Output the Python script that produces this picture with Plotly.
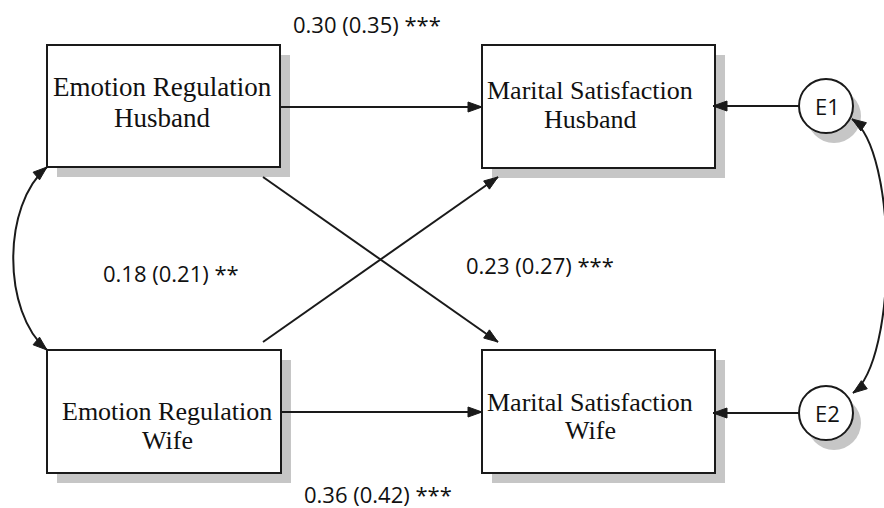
import math
import plotly.graph_objects as go

# ---------------- data ----------------
node_keys = ["ERH", "MSH", "ERW", "MSW"]
node_line1 = ["Emotion Regulation", "Marital Satisfaction", "Emotion Regulation", "Marital Satisfaction"]
node_line2 = ["Husband", "Husband", "Wife", "Wife"]
error_keys = ["E1", "E2"]
error_labels = ["E1", "E2"]
coef_labels = ["0.30 (0.35) ***", "0.23 (0.27) ***", "0.18 (0.21) **", "0.36 (0.42) ***"]
# directed paths (from, to)
paths_from = ["ERH", "ERW", "ERH", "ERW", "E1", "E2"]
paths_to = ["MSH", "MSW", "MSW", "MSH", "MSH", "MSW"]

# ---------------- layout geometry (pixels) ----------------
W, H = 884, 508
box_geom = {
    "ERH": dict(x0=47, y0=45, x1=280, y1=167, tx=162, ty1=87, ty2=118, fs=27),
    "MSH": dict(x0=482, y0=45, x1=715, y1=168, tx=590, ty1=90, ty2=119, fs=26),
    "ERW": dict(x0=47, y0=350, x1=281, y1=473, tx=167, ty1=411, ty2=440, fs=26),
    "MSW": dict(x0=482, y0=350, x1=715, y1=473, tx=590, ty1=402, ty2=430, fs=26),
}
circ_geom = {"E1": (826, 106, 27), "E2": (826, 413, 27)}
edge_geom = [
    ((280, 107), (482, 107)),
    ((281, 412), (482, 412)),
    ((263, 177), (498, 342)),
    ((263, 342), (498, 177)),
    ((799, 106), (713, 106)),
    ((799, 413), (713, 413)),
]
label_pos = [(367, 24), (540, 265), (171, 273), (378, 494)]
# covariance curves (cubic bezier control points)
cov_curves = [
    [(47, 167), (2, 205), (2, 312), (47, 350)],
    [(852, 119), (898, 150), (898, 360), (853, 393)],
]

INK = "#1a1a1a"
SHADOW = "#c6c6c6"
shapes = []
annotations = []


def head(tip, tail, L=14, hw=5):
    dx, dy = tip[0] - tail[0], tip[1] - tail[1]
    d = math.hypot(dx, dy)
    ux, uy = dx / d, dy / d
    bx, by = tip[0] - ux * L, tip[1] - uy * L
    nx, ny = -uy * hw, ux * hw
    return dict(type="path", xref="x", yref="y",
                path=f"M{tip[0]},{tip[1]} L{bx+nx},{by+ny} L{bx-nx},{by-ny} Z",
                fillcolor=INK, line=dict(color=INK, width=1))


# shadows
for k in node_keys:
    g = box_geom[k]
    shapes.append(dict(type="rect", xref="x", yref="y", x0=g["x0"] + 10, y0=g["y0"] + 10,
                       x1=g["x1"] + 10, y1=g["y1"] + 10, fillcolor=SHADOW, line=dict(width=0)))
for k in error_keys:
    cx, cy, r = circ_geom[k]
    shapes.append(dict(type="circle", xref="x", yref="y", x0=cx - r + 8, y0=cy - r + 10,
                       x1=cx + r + 8, y1=cy + r + 10, fillcolor=SHADOW, line=dict(width=0)))

# boxes
for i, k in enumerate(node_keys):
    g = box_geom[k]
    shapes.append(dict(type="rect", xref="x", yref="y", x0=g["x0"], y0=g["y0"], x1=g["x1"], y1=g["y1"],
                       fillcolor="white", line=dict(color=INK, width=2)))
    for txt, ty in ((node_line1[i], g["ty1"]), (node_line2[i], g["ty2"])):
        annotations.append(dict(x=g["tx"], y=ty, xref="x", yref="y", text=txt, showarrow=False,
                                font=dict(family="Liberation Serif", size=g["fs"], color="#111"),
                                xanchor="center", yanchor="middle"))

# error circles
for i, k in enumerate(error_keys):
    cx, cy, r = circ_geom[k]
    shapes.append(dict(type="circle", xref="x", yref="y", x0=cx - r, y0=cy - r, x1=cx + r, y1=cy + r,
                       fillcolor="white", line=dict(color=INK, width=2)))
    annotations.append(dict(x=cx + 1, y=cy, xref="x", yref="y", text=error_labels[i], showarrow=False,
                            font=dict(family="Open Sans", size=22, color="#111"),
                            xanchor="center", yanchor="middle"))

# directed paths
for (a, b) in edge_geom:
    shapes.append(dict(type="line", xref="x", yref="y", x0=a[0], y0=a[1], x1=b[0], y1=b[1],
                       line=dict(color=INK, width=2)))
    shapes.append(head(b, a))

# covariance curves
for P in cov_curves:
    (x0, y0), (x1, y1), (x2, y2), (x3, y3) = P
    shapes.append(dict(type="path", xref="x", yref="y",
                       path=f"M{x0},{y0} C{x1},{y1} {x2},{y2} {x3},{y3}",
                       line=dict(color=INK, width=2)))
    shapes.append(head(P[0], P[1]))
    shapes.append(head(P[3], P[2]))

# coefficient labels
for txt, (x, y) in zip(coef_labels, label_pos):
    annotations.append(dict(x=x, y=y, xref="x", yref="y", text=txt, showarrow=False,
                            font=dict(family="Open Sans", size=22, color="#111"),
                            xanchor="center", yanchor="middle"))

fig = go.Figure()
fig.update_layout(
    width=W, height=H, margin=dict(l=0, r=0, t=0, b=0),
    paper_bgcolor="white", plot_bgcolor="white",
    xaxis=dict(range=[0, W], visible=False, fixedrange=True),
    yaxis=dict(range=[H, 0], visible=False, fixedrange=True),
    shapes=shapes, annotations=annotations, showlegend=False,
)
fig.write_html("out.html", config={"displayModeBar": False},
               post_script="document.body.style.margin='0';document.body.style.overflow='hidden';")
